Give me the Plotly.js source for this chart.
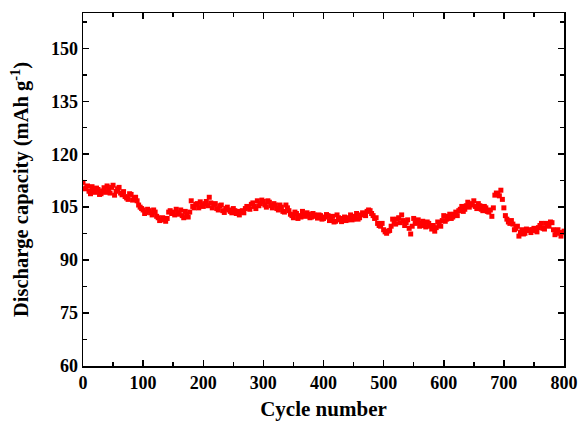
<!DOCTYPE html>
<html>
<head>
<meta charset="utf-8">
<script src="https://cdn.plot.ly/plotly-3.0.1.min.js"></script>
<style>html,body{margin:0;padding:0;background:#fff;}#chart{width:579px;height:421px;}</style>
</head>
<body>
<div id="chart"></div>
<script>
// cycles 0,5,...,800
const cyclesA = [];
for (let c = 0; c <= 800; c += 5) cyclesA.push(c);
// cycles 2.5,7.5,...,797.5
const cyclesB = [];
for (let c = 2.5; c < 800; c += 5) cyclesB.push(c);

const capacityA = [
112.0,110.5,109.5,110.8,109.2,110.0,108.8,110.5,111.0,109.0,
111.2,109.5,110.6,108.5,108.0,107.2,108.6,107.5,106.8,105.0,
104.2,103.5,104.0,102.8,103.6,102.0,101.4,101.5,101.8,104.0,
103.6,104.4,103.0,102.6,103.8,102.2,106.8,104.8,106.0,106.5,
105.2,106.6,107.8,104.8,106.0,104.2,105.6,103.5,105.0,103.8,
104.6,103.2,102.8,104.0,104.6,105.0,105.8,105.2,106.8,106.0,
106.6,105.0,106.4,104.8,105.6,104.2,105.0,103.6,104.8,103.0,
102.0,103.2,102.6,103.8,102.4,103.0,102.2,102.8,101.9,102.6,
101.8,102.9,101.2,102.4,101.0,102.0,100.9,102.2,101.4,102.8,
101.6,103.2,102.0,103.4,102.6,104.2,103.2,101.8,100.4,99.6,
98.6,97.6,98.4,101.6,100.2,102.0,102.8,99.8,101.4,97.4,
101.8,100.6,99.6,101.0,99.4,100.4,98.8,98.2,100.8,99.6,
102.6,101.6,103.0,102.2,103.6,104.0,105.2,104.4,106.4,105.6,
106.8,104.6,105.4,104.0,104.8,103.6,102.4,108.4,108.8,109.8,
104.8,101.6,100.4,100.2,99.0,96.8,98.6,97.6,98.4,97.8,
99.0,98.0,99.8,99.0,100.4,99.6,100.6,97.2,98.6,96.8,
98.2
];

const capacityB = [
110.2,111.0,108.8,109.8,110.4,108.6,109.6,109.2,110.0,110.6,
108.4,110.2,109.0,109.4,107.6,108.8,107.0,107.8,105.6,104.6,
103.2,104.4,103.4,104.2,102.4,101.2,102.0,101.0,103.6,103.2,
102.8,103.4,104.2,102.0,103.0,103.6,105.2,105.8,104.8,105.6,
106.0,105.4,106.2,105.8,104.6,105.4,104.0,104.6,104.2,103.4,
104.0,103.8,103.6,103.4,105.2,104.4,106.2,104.6,105.4,107.0,
105.6,106.8,105.4,106.0,104.6,105.6,103.8,105.6,104.0,102.6,
103.6,101.8,102.2,102.8,103.4,102.0,103.2,102.4,102.8,101.6,
102.2,102.6,101.6,100.8,102.8,101.4,101.8,101.2,102.0,101.4,
102.4,101.6,102.8,103.0,103.8,104.0,102.6,102.0,99.8,100.4,
98.0,98.2,99.6,100.8,101.6,100.6,101.2,100.6,99.0,99.6,
100.4,101.4,100.4,99.8,100.8,99.6,99.8,99.2,99.8,101.2,
101.0,102.4,101.8,103.0,102.6,104.4,103.8,105.4,105.0,106.0,
105.2,106.0,104.4,105.2,103.8,104.2,104.8,109.0,108.2,107.2,
102.6,100.8,101.2,98.6,99.6,97.8,97.4,98.8,98.6,98.6,
98.4,99.2,100.4,98.8,99.8,100.8,98.6,98.0,97.6,97.8
];

const xTicks = [0,100,200,300,400,500,600,700,800];
const yTicks = [60,75,90,105,120,135,150];

const fam = '"Liberation Serif", "Times New Roman", serif';

const marker = {symbol: 'square', size: 5, color: '#ff0000', line: {width: 0}};
const traceA = {x: cyclesA, y: capacityA, type: 'scatter', mode: 'markers', marker: marker, hoverinfo: 'skip'};
const traceB = {x: cyclesB, y: capacityB, type: 'scatter', mode: 'markers', marker: marker, hoverinfo: 'skip'};

const axisCommon = {
  showline: true, linewidth: 1.5, linecolor: '#000', mirror: 'ticks',
  ticks: 'inside', ticklen: 6, tickwidth: 1.5, tickcolor: '#000',
  showgrid: false, zeroline: false,
  tickfont: {family: fam, size: 18, color: '#000', weight: 'bold'},
  tickmode: 'array'
};

const layout = {
  width: 579, height: 421,
  margin: {l: 83, r: 15, t: 13, b: 55},
  paper_bgcolor: '#fff', plot_bgcolor: '#fff',
  showlegend: false,
  font: {family: fam, size: 18, color: '#000'},
  xaxis: Object.assign({}, axisCommon, {
    range: [0, 800], tickvals: xTicks, ticktext: xTicks.map(String),
    minor: {tickvals: [50,150,250,350,450,550,650,750], ticks: 'inside', ticklen: 4, tickwidth: 1.5, tickcolor: '#000'},
    title: {text: 'Cycle number', font: {family: fam, size: 21, color: '#000', weight: 'bold'}, standoff: 9}
  }),
  yaxis: Object.assign({}, axisCommon, {
    range: [60, 160], tickvals: yTicks, ticktext: yTicks.map(String),
    minor: {tickvals: [67.5,82.5,97.5,112.5,127.5,142.5,157.5], ticks: 'inside', ticklen: 4, tickwidth: 1.5, tickcolor: '#000'},
    title: {text: 'Discharge capacity (mAh g<sup>-1</sup>)', font: {family: fam, size: 20.5, color: '#000', weight: 'bold'}, standoff: 16}
  })
};

Plotly.newPlot('chart', [traceA, traceB], layout, {displayModeBar: false, staticPlot: true});
</script>
</body>
</html>
